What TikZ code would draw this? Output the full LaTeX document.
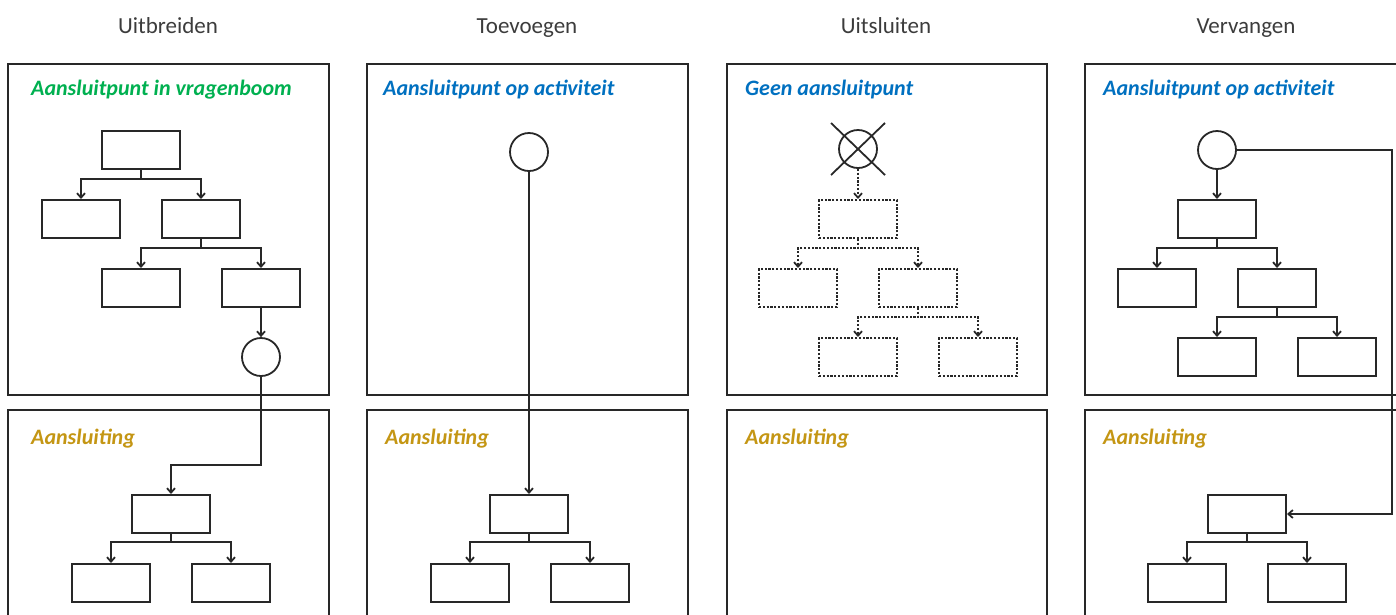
\documentclass[tikz,border=0pt]{standalone}
\usepackage{fontspec}
\setmainfont{Carlito}
\usetikzlibrary{arrows.meta}
\definecolor{frame}{RGB}{40,40,40}
\definecolor{titlegray}{RGB}{60,60,60}
\definecolor{treegreen}{RGB}{0,176,80}
\definecolor{actblue}{RGB}{0,112,192}
\definecolor{linkgold}{RGB}{196,150,20}
\tikzset{
  panel/.style={draw=frame, line width=2pt},
  coltitle/.style={text=titlegray, font=\fontsize{23}{26}\selectfont, anchor=base, inner sep=0pt},
  paneltitle/.style={font=\fontsize{22}{24}\selectfont\bfseries\itshape, anchor=base west, inner sep=0pt},
  qbox/.style={draw=frame, line width=2pt, minimum width=78pt, minimum height=38pt, inner sep=0pt},
  qboxdot/.style={qbox, dash pattern=on 2.2pt off 1.6pt},
  anchorpt/.style={draw=frame, line width=1.8pt, circle, minimum size=38pt, inner sep=0pt},
  arr/.style={draw=frame, line width=1.8pt, -{Straight Barb[length=4.5pt,width=8pt]}},
  arrdot/.style={arr, dash pattern=on 2.2pt off 1.6pt},
}
\begin{document}
\begin{tikzpicture}[x=1pt,y=-1pt]
\useasboundingbox (0,0) rectangle (1396,614);
\clip (0,0) rectangle (1396,614);

% column headings
\node[coltitle] (t1) at (168,33) {Uitbreiden};
\node[coltitle] (t2) at (527,33) {Toevoegen};
\node[coltitle] (t3) at (886,33) {Uitsluiten};
\node[coltitle] (t4) at (1246,33) {Vervangen};

% panels
\draw[panel] (8,64) rectangle (329,395);
\draw[panel] (8,410) rectangle (329,640);
\draw[panel] (367,64) rectangle (688,395);
\draw[panel] (367,410) rectangle (688,640);
\draw[panel] (727,64) rectangle (1047,395);
\draw[panel] (727,410) rectangle (1047,640);
\draw[panel] (1085,64) rectangle (1410,395);
\draw[panel] (1085,410) rectangle (1410,640);

% panel captions
\node[paneltitle, text=treegreen] (h1) at (31,95) {Aansluitpunt in vragenboom};
\node[paneltitle, text=actblue] (h2) at (383,95) {Aansluitpunt op activiteit};
\node[paneltitle, text=actblue] (h3) at (745,95) {Geen aansluitpunt};
\node[paneltitle, text=actblue] (h4) at (1103,95) {Aansluitpunt op activiteit};
\node[paneltitle, text=linkgold] (l1) at (31,444) {Aansluiting};
\node[paneltitle, text=linkgold] (l2) at (385,444) {Aansluiting};
\node[paneltitle, text=linkgold] (l3) at (745,444) {Aansluiting};
\node[paneltitle, text=linkgold] (l4) at (1103,444) {Aansluiting};

% ---- Uitbreiden ----
\node[qbox] (r1) at (141,150) {};
\node[qbox] (a1) at (81,219) {};
\node[qbox] (b1) at (201,219) {};
\node[qbox] (c1) at (141,288) {};
\node[qbox] (d1) at (261,288) {};
\node[anchorpt] (p1) at (261,357) {};
\node[qbox] (e1) at (171,514) {};
\node[qbox] (f1) at (111,583) {};
\node[qbox] (g1) at (231,583) {};
\draw[arr] (r1.south) -- ++(0,9) -| (a1.north);
\draw[arr] (r1.south) -- ++(0,9) -| (b1.north);
\draw[arr] (b1.south) -- ++(0,9) -| (c1.north);
\draw[arr] (b1.south) -- ++(0,9) -| (d1.north);
\draw[arr] (d1.south) -- (p1.north);
\draw[arr] (p1.south) -- ++(0,88) -| (e1.north);
\draw[arr] (e1.south) -- ++(0,8) -| (f1.north);
\draw[arr] (e1.south) -- ++(0,8) -| (g1.north);

% ---- Toevoegen ----
\node[anchorpt] (p2) at (529,152) {};
\node[qbox] (e2) at (529,514) {};
\node[qbox] (f2) at (470,583) {};
\node[qbox] (g2) at (590,583) {};
\draw[arr] (p2.south) -- (e2.north);
\draw[arr] (e2.south) -- ++(0,8) -| (f2.north);
\draw[arr] (e2.south) -- ++(0,8) -| (g2.north);

% ---- Uitsluiten ----
\node[anchorpt] (p3) at (858,149) {};
\draw[frame, line width=1.8pt] (p3.center) ++(-27,-26) -- ++(54,52);
\draw[frame, line width=1.8pt] (p3.center) ++(27,-26) -- ++(-54,52);
\node[qboxdot] (r3) at (858,219) {};
\node[qboxdot] (a3) at (798,288) {};
\node[qboxdot] (b3) at (918,288) {};
\node[qboxdot] (c3) at (858,357) {};
\node[qboxdot] (d3) at (978,357) {};
\draw[arrdot] (p3.south) -- (r3.north);
\draw[arrdot] (r3.south) -- ++(0,9) -| (a3.north);
\draw[arrdot] (r3.south) -- ++(0,9) -| (b3.north);
\draw[arrdot] (b3.south) -- ++(0,9) -| (c3.north);
\draw[arrdot] (b3.south) -- ++(0,9) -| (d3.north);

% ---- Vervangen ----
\node[anchorpt] (p4) at (1217,150) {};
\node[qbox] (r4) at (1217,219) {};
\node[qbox] (a4) at (1157,288) {};
\node[qbox] (b4) at (1277,288) {};
\node[qbox] (c4) at (1217,357) {};
\node[qbox] (d4) at (1337,357) {};
\node[qbox] (e4) at (1247,514) {};
\node[qbox] (f4) at (1187,583) {};
\node[qbox] (g4) at (1307,583) {};
\coordinate (k4) at (1392,150);
\draw[arr] (p4.south) -- (r4.north);
\draw[arr] (r4.south) -- ++(0,9) -| (a4.north);
\draw[arr] (r4.south) -- ++(0,9) -| (b4.north);
\draw[arr] (b4.south) -- ++(0,9) -| (c4.north);
\draw[arr] (b4.south) -- ++(0,9) -| (d4.north);
\draw[arr] (p4.east) -- (k4) |- (e4.east);
\draw[arr] (e4.south) -- ++(0,8) -| (f4.north);
\draw[arr] (e4.south) -- ++(0,8) -| (g4.north);
\end{tikzpicture}
\end{document}
